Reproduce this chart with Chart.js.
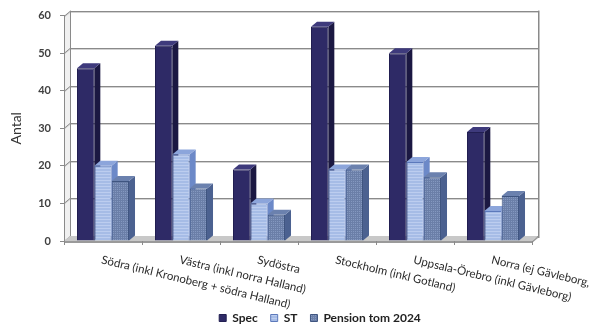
<!DOCTYPE html>
<html>
<head>
<meta charset="utf-8">
<script src="https://cdn.jsdelivr.net/npm/chart.js@4.4.0/dist/chart.umd.min.js"></script>
<style>
  html, body { margin: 0; padding: 0; background: #fff; }
  #wrap { width: 594px; height: 325px; }
</style>
</head>
<body>
<div id="wrap"><canvas id="chart" width="594" height="325"></canvas></div>
<script>
// ── Data ──
var regioner = [
  'Södra (inkl Kronoberg + södra Halland)',
  'Västra (inkl norra Halland)',
  'Sydöstra',
  'Stockholm (inkl Gotland)',
  'Uppsala-Örebro (inkl Gävleborg)',
  'Norra (ej Gävleborg,'
];
var spec    = [46, 52, 19, 57, 50, 29];
var st      = [20, 23, 10, 19, 21, 8];
var pension = [16, 14, 7, 19, 17, 12];
var yTicks  = [0, 10, 20, 30, 40, 50, 60];

// djup för 3D-effekten
var DX = 6, DY = -5;

function makePattern(w, h, draw) {
  var c = document.createElement('canvas');
  c.width = w; c.height = h;
  draw(c.getContext('2d'));
  return c.getContext('2d').createPattern(c, 'repeat');
}

var ctx0 = document.getElementById('chart').getContext('2d');

// ST: ljusblå med vågräta ränder
var stPattern = makePattern(3, 3, function(g) {
  g.fillStyle = '#a6bce6'; g.fillRect(0, 0, 3, 3);
  g.fillStyle = '#bccdef'; g.fillRect(0, 0, 3, 1);
});
// Pension: gråblått rutmönster
var penPattern = makePattern(2, 2, function(g) {
  g.fillStyle = '#8498c0'; g.fillRect(0, 0, 2, 2);
  g.fillStyle = '#6b7fa8'; g.fillRect(0, 0, 2, 1); g.fillRect(0, 0, 1, 2);
});

var sideColors = ['#1b1842', '#6c89c8', '#4b6190'];
var topColors  = ['#3e3a7c', '#8ca5db', '#6b81ae'];

// ── Väggar, stödlinjer och golv ──
var walls3d = {
  id: 'walls3d',
  afterLayout: function(chart) {
    // förklaringen ligger lite till höger om mitten
    chart.legend.left += 54;
    chart.legend.right += 54;
  },
  beforeDraw: function(chart) {
    var ctx = chart.ctx, a = chart.chartArea, ys = chart.scales.y;
    ctx.save();
    // vänster sidovägg
    ctx.fillStyle = '#f0f0f0';
    ctx.beginPath();
    ctx.moveTo(a.left, a.top); ctx.lineTo(a.left + DX, a.top + DY);
    ctx.lineTo(a.left + DX, a.bottom + DY); ctx.lineTo(a.left, a.bottom);
    ctx.closePath(); ctx.fill();

    yTicks.forEach(function(v) {
      var py = Math.round(ys.getPixelForValue(v)) + 0.5;
      ctx.lineWidth = 1;
      ctx.strokeStyle = '#d2d2d2';
      ctx.beginPath();
      ctx.moveTo(a.left, py + 1); ctx.lineTo(a.left + DX, py + DY + 1); ctx.lineTo(a.right + DX, py + DY + 1);
      ctx.stroke();
      ctx.strokeStyle = '#8a8a8a';
      ctx.beginPath();
      ctx.moveTo(a.left, py); ctx.lineTo(a.left + DX, py + DY); ctx.lineTo(a.right + DX, py + DY);
      ctx.stroke();
    });

    // väggkanter
    ctx.strokeStyle = '#8a8a8a';
    ctx.beginPath();
    ctx.moveTo(a.left + DX + 0.5, a.top + DY); ctx.lineTo(a.left + DX + 0.5, a.bottom + DY);
    ctx.moveTo(a.right + DX + 0.5, a.top + DY); ctx.lineTo(a.right + DX + 0.5, a.bottom + DY + 2);
    ctx.stroke();
    ctx.strokeStyle = '#c4c4c4';
    ctx.beginPath();
    ctx.moveTo(a.right + DX + 1.5, a.top + DY); ctx.lineTo(a.right + DX + 1.5, a.bottom + DY + 2);
    ctx.stroke();

    // golv
    ctx.fillStyle = '#c8c8c8';
    ctx.beginPath();
    ctx.moveTo(a.left, a.bottom); ctx.lineTo(a.left + DX, a.bottom + DY);
    ctx.lineTo(a.right + DX, a.bottom + DY); ctx.lineTo(a.right, a.bottom);
    ctx.closePath(); ctx.fill();
    ctx.fillStyle = '#9a9a9a';
    ctx.beginPath();
    ctx.moveTo(a.left, a.bottom); ctx.lineTo(a.right, a.bottom);
    ctx.lineTo(a.right + DX, a.bottom + DY); ctx.lineTo(a.right + DX, a.bottom + DY + 2);
    ctx.lineTo(a.right, a.bottom + 2); ctx.lineTo(a.left, a.bottom + 2);
    ctx.closePath(); ctx.fill();
    ctx.restore();
  },
  // staplarnas sidor och toppar, framsidorna ritas av Chart.js
  beforeDatasetsDraw: function(chart) {
    var ctx = chart.ctx;
    ctx.save();
    for (var i = 0; i < regioner.length; i++) {
      chart.data.datasets.forEach(function(ds, d) {
        var bar = chart.getDatasetMeta(d).data[i];
        var x1 = bar.x - bar.width / 2, x2 = bar.x + bar.width / 2;
        var yt = bar.y, yb = bar.base;
        ctx.fillStyle = sideColors[d];
        ctx.beginPath();
        ctx.moveTo(x2, yt); ctx.lineTo(x2 + DX, yt + DY);
        ctx.lineTo(x2 + DX, yb + DY); ctx.lineTo(x2, yb);
        ctx.closePath(); ctx.fill();
        ctx.fillStyle = topColors[d];
        ctx.beginPath();
        ctx.moveTo(x1, yt); ctx.lineTo(x1 + DX, yt + DY);
        ctx.lineTo(x2 + DX, yt + DY); ctx.lineTo(x2, yt);
        ctx.closePath(); ctx.fill();
      });
    }
    ctx.restore();
  }
};

// ── Lutande kategorietiketter ──
var slantLabels = {
  id: 'slantLabels',
  afterDraw: function(chart) {
    var ctx = chart.ctx, xs = chart.scales.x, a = chart.chartArea;
    ctx.save();
    ctx.font = '11.5px Lato, sans-serif';
    ctx.fillStyle = '#2a2a2a';
    ctx.textAlign = 'left';
    ctx.textBaseline = 'top';
    regioner.forEach(function(lbl, i) {
      var px = xs.getPixelForValue(i);
      ctx.save();
      ctx.translate(px, a.bottom + 13);
      ctx.rotate(13.5 * Math.PI / 180);
      ctx.fillText(lbl, 0, 0);
      ctx.restore();
    });
    ctx.restore();
  }
};

new Chart(ctx0, {
  type: 'bar',
  data: {
    labels: regioner,
    datasets: [
      { label: 'Spec', data: spec, backgroundColor: '#2e2a66', borderColor: '#221f52', borderWidth: 1 },
      { label: 'ST', data: st, backgroundColor: stPattern, borderColor: '#5c79bb', borderWidth: 1 },
      { label: 'Pension tom 2024', data: pension, backgroundColor: penPattern, borderColor: '#3f5580', borderWidth: 1 }
    ]
  },
  options: {
    responsive: false,
    animation: false,
    events: [],
    layout: { padding: { left: 0, right: 62, top: 13, bottom: -9 } },
    datasets: { bar: { categoryPercentage: 0.667, barPercentage: 1.0, borderSkipped: 'start' } },
    scales: {
      x: {
        offset: true,
        ticks: { display: false },
        grid: { drawOnChartArea: false, drawTicks: true, tickLength: 4, color: '#8a8a8a', offset: true },
        border: { display: false },
        afterFit: function(s) { s.height = 58; }
      },
      y: {
        min: yTicks[0],
        max: yTicks[yTicks.length - 1],
        ticks: { stepSize: 10, color: '#404040', padding: 9, font: { family: 'Lato, sans-serif', size: 11, weight: 'bold' } },
        grid: { drawOnChartArea: false, drawTicks: true, tickLength: 4, color: '#8a8a8a' },
        border: { display: true, color: '#8a8a8a' },
        title: { display: true, text: 'Antal', color: '#333', padding: { top: 8, bottom: 0 }, font: { family: 'Lato, sans-serif', size: 14 } },
        afterFit: function(s) { s.width = 64; }
      }
    },
    plugins: {
      tooltip: { enabled: false },
      legend: {
        position: 'bottom',
        labels: { boxWidth: 7, boxHeight: 7, padding: 13, color: '#222', font: { family: 'Lato, sans-serif', size: 12, weight: 'bold' } }
      }
    }
  },
  plugins: [walls3d, slantLabels]
});
</script>
</body>
</html>
